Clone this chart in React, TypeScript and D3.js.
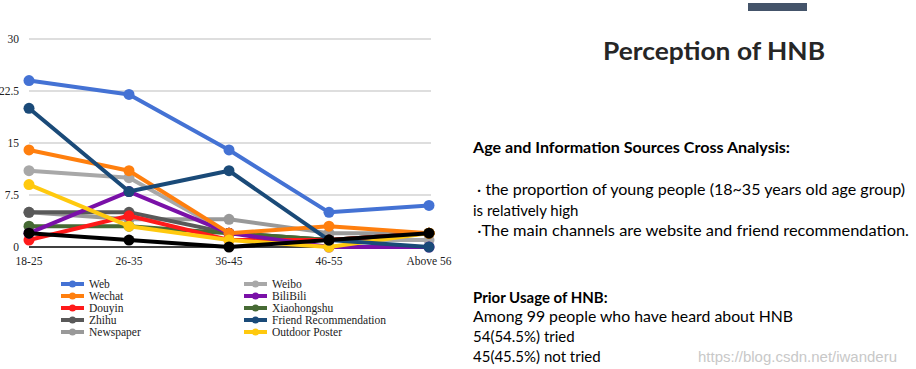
import React from "react";
import * as d3 from "d3";

const categories = ["18-25", "26-35", "36-45", "46-55", "Above 56"];
const yTicks = [0, 7.5, 15, 22.5, 30];
const yTickLabels = ["0", "7.5", "15", "22.5", "30"];

const seriesNames = ["Web", "Wechat", "Douyin", "Zhihu", "Newspaper", "Weibo", "BiliBili", "Xiaohongshu", "Friend Recommendation", "Outdoor Poster", ""];
const seriesColors = ["#4472d4", "#ff7f0e", "#ff1a1a", "#595959", "#999999", "#a8a8a8", "#7a10a8", "#466a34", "#1a4a78", "#ffc90e", "#000000"];
const web = [24, 22, 14, 5, 6];
const wechat = [14, 11, 2, 3, 2];
const douyin = [1, 4.5, 1, 1, 2];
const zhihu = [5, 5, 2, 1, 2];
const newspaper = [5, 4, 4, 2, 2];
const weibo = [11, 10, 2, 1, 1];
const bilibili = [2, 8, 2, 0, 0];
const xiaohongshu = [3, 3, 2, 1, 2];
const friend = [20, 8, 11, 1, 0];
const outdoor = [9, 3, 1, 0, 2];
const other = [2, 1, 0, 1, 2];
const seriesValues = [web, wechat, douyin, zhihu, newspaper, weibo, bilibili, xiaohongshu, friend, outdoor, other];
const drawOrder = [4, 5, 3, 7, 2, 6, 1, 9, 0, 8, 10];

const legendCol1 = [0, 1, 2, 3, 4];
const legendCol2 = [5, 6, 7, 8, 9];

const title = "Perception of HNB";
const heading1 = "Age and Information Sources Cross Analysis:";
const lines1 = [
  " · the proportion of young people (18~35 years old age group)",
  "is relatively high",
  " ·The main channels are website and friend recommendation.",
];
const heading2 = "Prior Usage of HNB:";
const lines2 = [
  "Among 99 people who have heard about HNB",
  "54(54.5%) tried",
  "45(45.5%) not tried",
];
const watermark = "https://blog.csdn.net/iwanderu";

export default function App() {
  const W = 916, H = 369;
  const x = d3.scalePoint<string>().domain(categories).range([29, 429]);
  const y = d3.scaleLinear().domain([0, 30]).range([247, 39]);
  const line = d3.line<number>().x((_, i) => x(categories[i]) as number).y((d) => y(d));
  const serif = "'Liberation Serif', 'DejaVu Serif', serif";
  const sans = "Lato, 'Open Sans', sans-serif";

  const legendItem = (idx: number, lx: number, ly: number) => (
    <g key={"lg" + idx}>
      <line x1={lx} x2={lx + 23} y1={ly} y2={ly} stroke={seriesColors[idx]} strokeWidth={4} />
      <circle cx={lx + 11.5} cy={ly} r={3.5} fill={seriesColors[idx]} />
      <text x={lx + 28} y={ly + 4} fontFamily={serif} fontSize={11.5} fill="#222">{seriesNames[idx]}</text>
    </g>
  );

  return (
    <svg width={W} height={H} style={{ position: "absolute", left: 0, top: 0, background: "#fff" }}>
      <rect width={W} height={H} fill="#fff" />
      {yTicks.map((t, i) => (
        <g key={"gt" + i}>
          {t !== 0 && <line x1={29} x2={431} y1={y(t)} y2={y(t)} stroke="#bdbdbd" strokeWidth={1} />}
          <text x={19} y={y(t) + 4} textAnchor="end" fontFamily={serif} fontSize={11.5} fill="#222">{yTickLabels[i]}</text>
        </g>
      ))}
      <line x1={29} x2={431} y1={y(0)} y2={y(0)} stroke="#000" strokeWidth={1.5} />
      {categories.map((c) => (
        <text key={c} x={x(c)} y={265} textAnchor="middle" fontFamily={serif} fontSize={11.5} fill="#222">{c}</text>
      ))}
      {drawOrder.map((si) => (
        <g key={"s" + si}>
          <path d={line(seriesValues[si]) || ""} fill="none" stroke={seriesColors[si]} strokeWidth={4} strokeLinejoin="round" />
          {seriesValues[si].map((v, i) => (
            <circle key={i} cx={x(categories[i])} cy={y(v)} r={5.5} fill={seriesColors[si]} />
          ))}
        </g>
      ))}
      {legendCol1.map((idx, i) => legendItem(idx, 61, 284 + i * 12))}
      {legendCol2.map((idx, i) => legendItem(idx, 244, 284 + i * 12))}

      <rect x={748} y={3} width={59} height={8} fill="#44546a" />
      <text x={714} y={60} textAnchor="middle" fontFamily={sans} fontWeight="bold" fontSize={24} fill="#262626" textLength={222} lengthAdjust="spacingAndGlyphs">{title}</text>
      <text x={473} y={153} fontFamily={sans} fontWeight="bold" fontSize={15} fill="#000" textLength={317} lengthAdjust="spacingAndGlyphs">{heading1}</text>
      <text x={473} y={195} fontFamily={sans} fontSize={15} fill="#000" textLength={432} lengthAdjust="spacingAndGlyphs" style={{ whiteSpace: "pre" }}>{lines1[0]}</text>
      <text x={473} y={216} fontFamily={sans} fontSize={15} fill="#000">{lines1[1]}</text>
      <text x={473} y={236} fontFamily={sans} fontSize={15} fill="#000" textLength={436} lengthAdjust="spacingAndGlyphs" style={{ whiteSpace: "pre" }}>{lines1[2]}</text>
      <text x={473} y={303} fontFamily={sans} fontWeight="bold" fontSize={15} fill="#000">{heading2}</text>
      <text x={473} y={322} fontFamily={sans} fontSize={15} fill="#000" textLength={320} lengthAdjust="spacingAndGlyphs">{lines2[0]}</text>
      <text x={473} y={342} fontFamily={sans} fontSize={15} fill="#000">{lines2[1]}</text>
      <text x={473} y={362} fontFamily={sans} fontSize={15} fill="#000">{lines2[2]}</text>
      <text x={698} y={362} fontFamily="'Liberation Sans', Arial, sans-serif" fontSize={14} fill="#c8c8c8" textLength={199} lengthAdjust="spacingAndGlyphs">{watermark}</text>
    </svg>
  );
}
